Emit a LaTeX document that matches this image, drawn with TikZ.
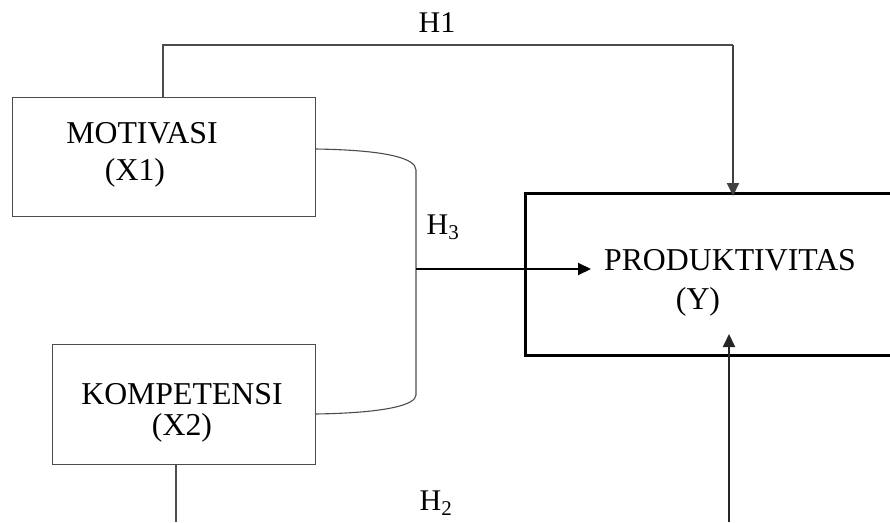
\documentclass[tikz,border=0pt]{standalone}
\usepackage{fontspec}
\setmainfont{Liberation Serif}
\usetikzlibrary{arrows.meta}
\begin{document}
\begin{tikzpicture}[x=1pt,y=-1pt,
  thinline/.style={draw=black!70, line width=1.1pt},
  varbox/.style={thinline, rectangle, inner sep=0pt, anchor=north west},
  ybox/.style={draw=black, line width=3pt, rectangle, inner sep=0pt, anchor=north west},
  lbl/.style={font=\fontsize{31.8}{36}\selectfont, inner sep=0pt},
  hlbl/.style={font=\fontsize{30}{34}\selectfont, inner sep=0pt},
  tip/.style={-{Triangle[length=13pt,width=12pt]}}
]
\useasboundingbox (0,0) rectangle (890,522);
\clip (0,0) rectangle (890,522);

% boxes
\node[varbox, minimum width=303pt, minimum height=119pt] (x1) at (12,97) {};
\node[varbox, minimum width=263pt, minimum height=120pt] (x2) at (52,344) {};
\node[ybox, minimum width=420pt, minimum height=162pt] (y) at (524,192) {};

% texts
\node[lbl] (t1) at (142,133) {MOTIVASI};
\node[lbl] (t1b) at (135,173) {(X1)};
\node[lbl] (t2) at (182,394) {KOMPETENSI};
\node[lbl] (t2b) at (182,428) {(X2)};
\node[lbl] (ty) at (730,260) {PRODUKTIVITAS};
\node[lbl] (tyb) at (698,302) {(Y)};
\node[hlbl] (h1) at (437,23) {H1};
\node[hlbl] (h3) at (443,227) {H\textsubscript{3}};
\node[hlbl] (h2) at (436,503) {H\textsubscript{2}};

% coordinates
\coordinate (a1) at (163,45);
\coordinate (a2) at (733,45);
\coordinate (a3) at (733,196);
\coordinate (k1) at (315,149);
\coordinate (k2) at (315,414);
\coordinate (j1) at (416,170);
\coordinate (j2) at (416,395);
\coordinate (jm) at (416,269);
\coordinate (h3end) at (591,269);
\coordinate (b1) at (176,522);
\coordinate (c1) at (729,522);
\coordinate (c2) at (729,334);

% H1
\draw[thinline] (x1.north west -| a1) -- (a1) -- (a2);
\draw[draw=black!75, line width=2pt, tip] (a2) -- (a3);

% bracket for H3
\draw[thinline] (k1) .. controls (385,150) and (416,158) .. (j1) -- (j2)
  .. controls (416,405) and (385,413) .. (k2);
\draw[line width=2pt, tip] (jm) -- (h3end);

% H2
\draw[thinline] (x2.south west -| b1) -- (b1);
\draw[draw=black!85, line width=2pt, tip] (c1) -- (c2);
\end{tikzpicture}
\end{document}
